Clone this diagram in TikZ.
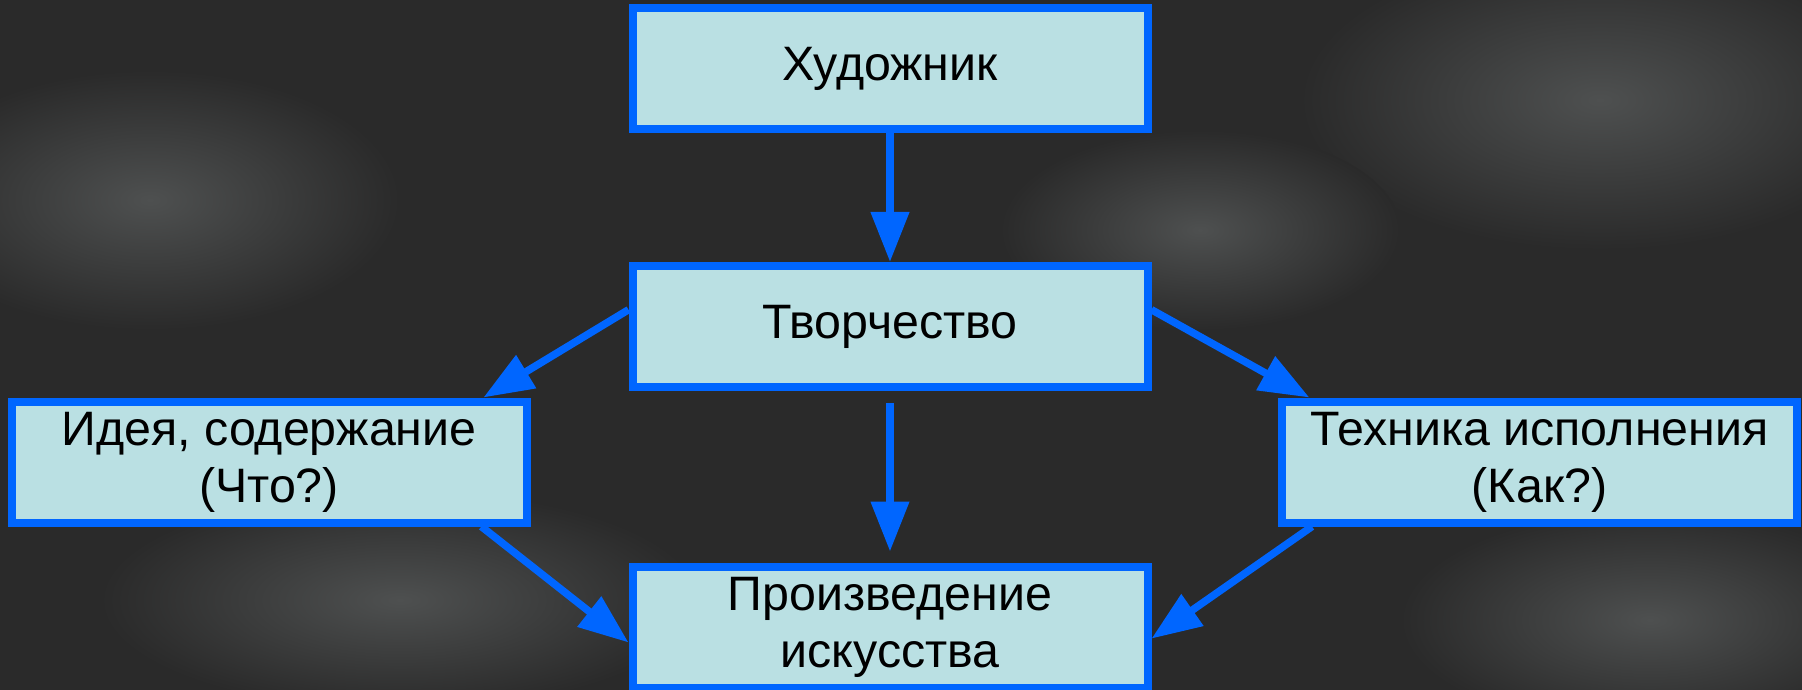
\documentclass[tikz,border=0pt]{standalone}
\usepackage{fontspec}
\setmainfont{Liberation Sans}
\usetikzlibrary{arrows.meta, calc}
\tikzset{>={Triangle[length=1cm, width=0.74cm]}}
\definecolor{boxfill}{RGB}{186,224,227}
\definecolor{linkblue}{RGB}{0,102,255}
\definecolor{bggray}{RGB}{42,42,42}
\definecolor{bglight}{RGB}{78,80,80}
\tikzset{
	stage/.style={draw=linkblue, fill=boxfill, line width=0.16cm, inner sep=0pt,
		minimum width=10.3cm, minimum height=2.42cm, align=center,
		font=\fontsize{27.5}{32.5}\selectfont},
	link/.style={->, color=linkblue, line width=0.15cm}
}

\begin{document}
\begin{tikzpicture}
	% background
	\fill[bggray] (0, 0) rectangle (36.04, -13.8);
	\useasboundingbox (0, 0) rectangle (36.04, -13.8);
	\foreach \x/\y/\rx/\ry in {32/-2/6/3, 3/-4/5/2.6, 33/-12.4/5/2.2, 8/-12/6/2.2, 24/-4.6/4/2}
		\shade[inner color=bglight, outer color=bggray] (\x, \y) ellipse ({\rx} and {\ry});
	% boxes
	\node[stage] (hud) at (17.8, -1.38) {Художник};
	\node[stage] (tvor) at (17.8, -6.53) {Творчество};
	\node[stage] (idea) at (5.38, -9.24) {Идея, содержание\\(Что?)};
	\node[stage] (tech) at (30.79, -9.24) {Техника исполнения\\(Как?)};
	\node[stage] (prod) at (17.8, -12.54) {Произведение\\искусства};
	% arrows
	\draw[link] (hud) -- (tvor);
	\draw[link] ($(tvor.north west)!.37!(tvor.south west)$) -- ($(idea.north west)!.91!(idea.north east)$);
	\draw[link] ($(tvor.north east)!.37!(tvor.south east)$) -- ($(tech.north west)!.06!(tech.north east)$);
	\draw[link, shorten <=0.24cm, shorten >=0.22cm] (tvor) -- (prod);
	\draw[link] ($(idea.south west)!.906!(idea.south east)$) -- ($(prod.north west)!.62!(prod.south west)$);
	\draw[link] ($(tech.south west)!.065!(tech.south east)$) -- ($(prod.north east)!.59!(prod.south east)$);
\end{tikzpicture}
\end{document}
